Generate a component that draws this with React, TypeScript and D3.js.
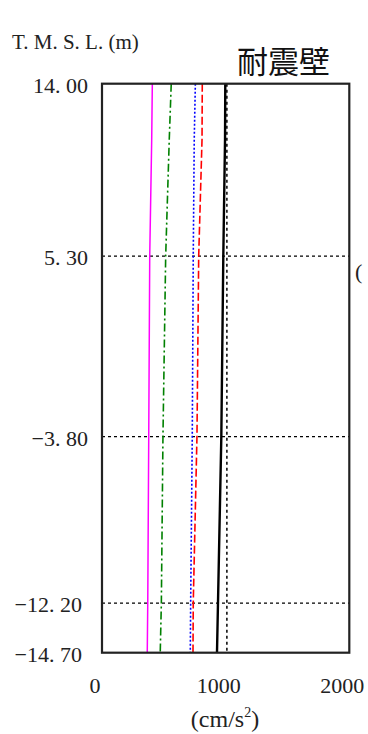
import React from "react";
import * as d3 from "d3";

const levels = [14, 11.2, 5.3, -3.8, -12.2, -14.7];
const magentaVals = [407, 402, 386, 378, 370, 366];
const greenVals = [560, 544, 515, 493, 480, 471];
const blueVals = [755, 746, 738, 730, 717, 714];
const redVals = [811, 809, 782, 768, 738, 736];
const blackVals = [997, 995, 981, 965, 938, 930];
const refValue = 1010;

const yTicks = [14, 5.3, -3.8, -12.2, -14.7];
const yGrid = [5.3, -3.8, -12.2];
const xTicks = [0, 1000, 2000];

const W = 368;
const H = 734;
const left = 102;
const right = 349.3;
const top = 83.7;
const bottom = 652.7;

const serif = "'Liberation Serif', 'DejaVu Serif', serif";

function fmtY(v: number) {
  const s = Math.abs(v).toFixed(2).replace(".", ". ");
  return (v < 0 ? "\u2212" : "") + s;
}

export default function App() {
  const x = d3.scaleLinear().domain([0, 2000]).range([left, right]);
  const y = d3.scaleLinear().domain([14, -14.7]).range([top, bottom]);
  const line = (vals: number[]) =>
    d3
      .line<number>()
      .x((d) => x(d))
      .y((_, i) => y(levels[i]))(vals) as string;

  const series = [
    { vals: magentaVals, color: "#ff00ff", dash: undefined, w: 1.5 },
    { vals: greenVals, color: "#008000", dash: "8,3,2,3", w: 1.6 },
    { vals: blueVals, color: "#0000ff", dash: "2,2", w: 1.6 },
    { vals: redVals, color: "#ff0000", dash: "8,3", w: 1.6 },
    { vals: blackVals, color: "#000000", dash: undefined, w: 2.4 },
  ];

  return (
    <svg
      width={W}
      height={H}
      style={{ position: "absolute", left: 0, top: 0, background: "#fff" }}
    >
      <rect x={0} y={0} width={W} height={H} fill="#fff" />
      <text x={12} y={49} fontFamily={serif} fontSize={21} fill="#222">
        T. M. S. L. (m)
      </text>
      <text
        x={283.5}
        y={73}
        textAnchor="middle"
        fontFamily="'Noto Sans CJK JP', sans-serif"
        fontSize={31}
        fill="#111"
      >
        耐震壁
      </text>

      {yGrid.map((v) => (
        <line
          key={"g" + v}
          x1={left}
          x2={right}
          y1={y(v)}
          y2={y(v)}
          stroke="#000"
          strokeWidth={1.3}
          strokeDasharray="3,3"
        />
      ))}
      <line
        x1={x(refValue)}
        x2={x(refValue)}
        y1={top}
        y2={bottom}
        stroke="#000"
        strokeWidth={1.5}
        strokeDasharray="3,3"
      />

      {series.map((s, i) => (
        <path
          key={i}
          d={line(s.vals)}
          fill="none"
          stroke={s.color}
          strokeWidth={s.w}
          strokeDasharray={s.dash}
        />
      ))}

      <rect
        x={left}
        y={top}
        width={right - left}
        height={bottom - top}
        fill="none"
        stroke="#222"
        strokeWidth={2.2}
      />

      {yTicks.map((v) => {
        const label = fmtY(v);
        return (
          <text
            key={"y" + v}
            x={label.length >= 7 ? 82 : 88}
            y={y(v) + 9}
            textAnchor="end"
            fontFamily={serif}
            fontSize={22}
            fill="#222"
          >
            {label}
          </text>
        );
      })}

      {xTicks.map((v) => (
        <text
          key={"x" + v}
          x={x(v) - 7}
          y={693}
          textAnchor="middle"
          fontFamily={serif}
          fontSize={22}
          fill="#222"
        >
          {String(v)}
        </text>
      ))}

      <text x={225} y={727} textAnchor="middle" fontFamily={serif} fontSize={24} fill="#222">
        (cm/s
        <tspan fontSize={14} dy={-10}>
          2
        </tspan>
        <tspan dy={10}>)</tspan>
      </text>

      <text x={355} y={279} fontFamily={serif} fontSize={22} fill="#222">
        (
      </text>
    </svg>
  );
}
